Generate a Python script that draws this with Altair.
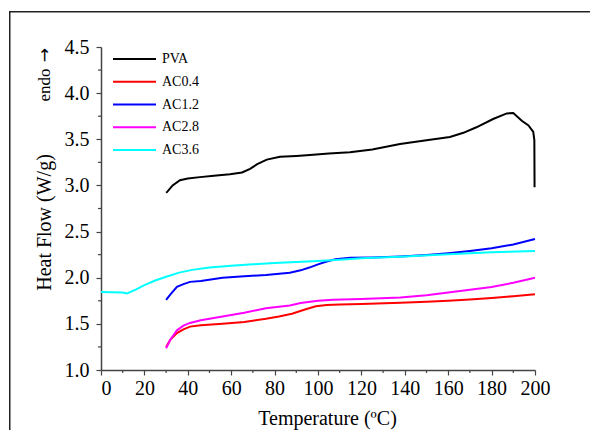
import altair as alt
import pandas as pd

series = ["PVA", "AC0.4", "AC1.2", "AC2.8", "AC3.6"]
colors = ["#000000", "#ff0000", "#0000ff", "#ff00ff", "#00ffff"]

pva_t = [30, 30.5, 33, 36.4, 40, 45.6, 52, 59.4, 65, 68.7, 72, 76.4, 82.5, 90, 96.3, 105,
         114.7, 125, 137.8, 150, 160.8, 167, 173, 180.7, 187, 190, 193.9, 197, 199.2, 199.7, 199.8]
pva_hf = [2.92, 2.93, 3.0, 3.056, 3.075, 3.09, 3.105, 3.12, 3.14, 3.18, 3.23, 3.28, 3.31, 3.32,
          3.33, 3.345, 3.36, 3.39, 3.45, 3.49, 3.525, 3.57, 3.63, 3.72, 3.78, 3.785, 3.70, 3.65,
          3.58, 3.49, 2.98]

ac04_t = [30, 32, 35, 38, 41, 46, 56, 66, 76, 82, 88, 94, 99, 104, 110, 120, 138, 150, 160,
          170, 180, 190, 200]
ac04_hf = [1.25, 1.33, 1.40, 1.44, 1.47, 1.485, 1.50, 1.52, 1.555, 1.58, 1.61, 1.655, 1.69,
           1.705, 1.71, 1.715, 1.73, 1.74, 1.75, 1.765, 1.78, 1.80, 1.82]

ac12_t = [30, 32, 35, 38, 41, 46, 56, 66, 76, 87, 92, 96, 100, 104, 108, 115, 125, 138, 150,
          160, 170, 180, 190, 200]
ac12_hf = [1.76, 1.82, 1.90, 1.93, 1.955, 1.965, 2.0, 2.015, 2.03, 2.055, 2.08, 2.11, 2.145,
           2.175, 2.2, 2.215, 2.22, 2.23, 2.245, 2.265, 2.29, 2.32, 2.36, 2.42]

ac28_t = [30, 32, 35, 38, 41, 46, 56, 66, 76, 87, 92, 100, 107, 120, 138, 150, 160, 170, 180,
          190, 200]
ac28_hf = [1.235, 1.33, 1.43, 1.48, 1.51, 1.54, 1.58, 1.62, 1.67, 1.70, 1.725, 1.75, 1.76,
           1.77, 1.785, 1.81, 1.84, 1.87, 1.90, 1.945, 2.0]

ac36_t = [0, 10, 12, 16, 20, 25, 30, 36, 42, 50, 60, 70, 80, 90, 100, 110, 120, 140, 160, 180, 200]
ac36_hf = [1.845, 1.84, 1.83, 1.87, 1.92, 1.97, 2.01, 2.055, 2.085, 2.11, 2.13, 2.145, 2.16,
           2.17, 2.18, 2.195, 2.21, 2.23, 2.255, 2.275, 2.29]

x_major = list(range(0, 201, 20))
x_minor = list(range(10, 200, 20))
y_major = [1.0, 1.5, 2.0, 2.5, 3.0, 3.5, 4.0, 4.5]
y_minor = [1.25, 1.75, 2.25, 2.75, 3.25, 3.75, 4.25]

rows = []
for name, ts, hs in zip(series, [pva_t, ac04_t, ac12_t, ac28_t, ac36_t],
                        [pva_hf, ac04_hf, ac12_hf, ac28_hf, ac36_hf]):
    for i, (t, h) in enumerate(zip(ts, hs)):
        rows.append({"series": name, "T": t, "HF": h, "idx": i})
df = pd.DataFrame(rows)

FONT = "Liberation Serif"
AX = "#444444"

x_scale = alt.Scale(domain=[0, 200], nice=False, zero=False)
y_scale = alt.Scale(domain=[1.0, 4.5], nice=False, zero=False)
color_scale = alt.Scale(domain=series, range=colors)

x_axis = alt.Axis(values=x_major, format="d", tickSize=5, labelPadding=3, labelOverlap=False,
                  labelFlush=False,
                  labelAlign={"condition": {"test": "datum.value == 0", "value": "left"}, "value": "center"},
                  title="Temperature (ºC)", titleX=226, titleY=48, titleBaseline="middle",
                  titleAlign="center")
y_axis = alt.Axis(values=y_major, format=".1f", tickSize=5, labelPadding=7, labelOverlap=False,
                  title="Heat Flow (W/g)", titleX=-57, titleY=175, titleAngle=-90,
                  titleAlign="center", titleBaseline="middle")

lines = alt.Chart(df).mark_line(strokeWidth=2).encode(
    x=alt.X("T:Q", scale=x_scale, axis=x_axis),
    y=alt.Y("HF:Q", scale=y_scale, axis=y_axis),
    color=alt.Color("series:N", scale=color_scale, legend=None),
    order=alt.Order("idx:Q"),
)

xminor = alt.Chart(pd.DataFrame({"T": x_minor})).mark_rule(color=AX, strokeWidth=1.2).encode(
    x=alt.X("T:Q", scale=x_scale, axis=x_axis),
    y=alt.value(323), y2=alt.value(326),
)
yminor = alt.Chart(pd.DataFrame({"HF": y_minor})).mark_rule(color=AX, strokeWidth=1.2).encode(
    y=alt.Y("HF:Q", scale=y_scale, axis=None),
    x=alt.value(0), x2=alt.value(-3),
)

leg_df = pd.DataFrame({"series": series})
leg_y = alt.Y("series:N", scale=alt.Scale(type="point", domain=series, range=[12, 103], padding=0), axis=None)
leg_lines = alt.Chart(leg_df).mark_rule(strokeWidth=2).encode(
    x=alt.value(12), x2=alt.value(55), y=leg_y,
    color=alt.Color("series:N", scale=color_scale, legend=None),
)
leg_text = alt.Chart(leg_df).mark_text(align="left", baseline="middle", font=FONT,
                                       fontSize=14, color="black").encode(
    x=alt.value(61), y=leg_y, text="series:N",
)

endo = alt.Chart(pd.DataFrame({"t": ["endo"]})).mark_text(
    angle=270, align="center", baseline="middle", font=FONT, fontSize=17, color="black"
).encode(text="t:N", x=alt.value(-56), y=alt.value(38))
arrow = alt.Chart(pd.DataFrame({"t": ["→"]})).mark_text(
    angle=270, align="center", baseline="middle", font="DejaVu Sans", fontSize=17, color="black"
).encode(text="t:N", x=alt.value(-56), y=alt.value(8))

frame = alt.Chart(pd.DataFrame({"a": [0]})).mark_rect(
    fillOpacity=0, stroke="#222222", strokeWidth=1.5
).encode(x=alt.value(-91.25), x2=alt.value(800), y=alt.value(-35.25), y2=alt.value(800))

chart = alt.layer(lines, xminor, yminor, leg_lines, leg_text, endo, arrow, frame).resolve_scale(
    y="independent"
).properties(
    width=434, height=323, autosize="none",
    padding={"left": 93, "top": 39, "right": 55, "bottom": 60},
).configure_view(strokeWidth=0).configure_axis(
    grid=False, domainColor=AX, domainWidth=1.5, tickColor=AX, tickWidth=1.2,
    labelFont=FONT, labelFontSize=20, labelColor="black",
    titleFont=FONT, titleFontSize=20, titleFontWeight="normal", titleColor="black",
)

chart.save("out.html", embed_options={"renderer": "svg", "actions": False})
